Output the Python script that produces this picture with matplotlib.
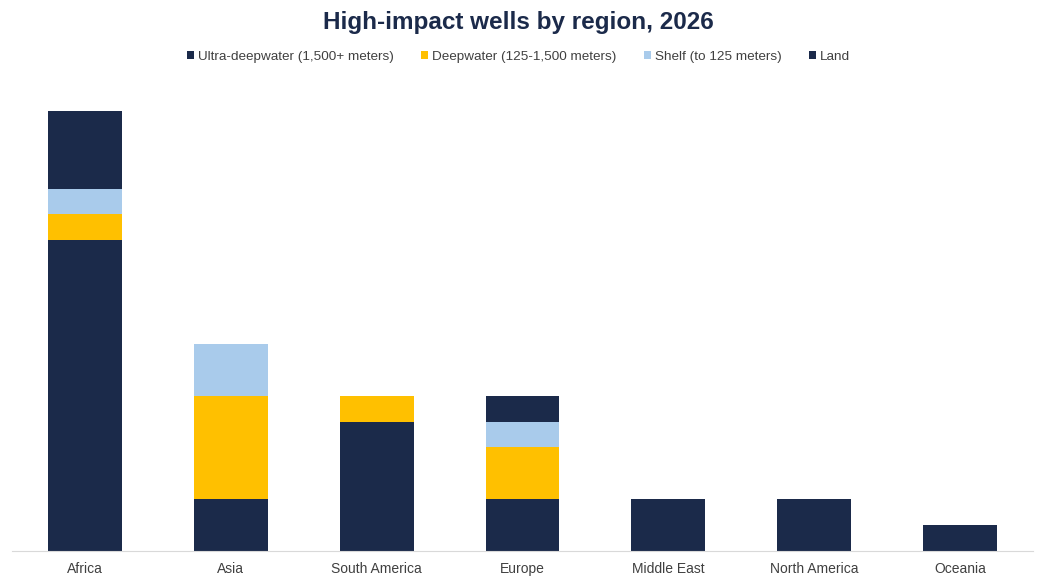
import matplotlib
matplotlib.use("Agg")
import matplotlib.pyplot as plt
import numpy as np

plt.rcParams['font.family'] = ['Liberation Sans', 'DejaVu Sans']

regions = ["Africa", "Asia", "South America", "Europe", "Middle East", "North America", "Oceania"]
series_names = ["Ultra-deepwater (1,500+ meters)", "Deepwater (125-1,500 meters)",
                "Shelf (to 125 meters)", "Land"]
ultra_deep = [12, 2, 5, 2, 0, 0, 0]
deep = [1, 4, 1, 2, 0, 0, 0]
shelf = [1, 2, 0, 1, 0, 0, 0]
land = [3, 0, 0, 1, 2, 2, 1]
colors = ["#1B2A4A", "#FFC000", "#A9CBEB", "#1B2A4A"]

fig = plt.figure(figsize=(10.37, 5.76), dpi=100)
ax = fig.add_axes([12/1037, 25/576, 1021/1037, (551-85)/576])

x = np.arange(len(regions))
bottom = np.zeros(len(regions))
for vals, name, c in zip([ultra_deep, deep, shelf, land], series_names, colors):
    ax.bar(x, vals, bottom=bottom, width=0.507, color=c, label=name)
    bottom += np.array(vals)

ax.set_xlim(-0.5, len(regions) - 0.5)
ax.set_ylim(0, 18)
ax.set_yticks([])
for s in ["top", "right", "left"]:
    ax.spines[s].set_visible(False)
ax.spines["bottom"].set_color("#D9D9D9")
ax.set_xticks(x)
ax.set_xticklabels(regions, fontsize=10, color="#404040")
ax.tick_params(axis="x", length=0, pad=8)

fig.text(0.5, 1 - 22/576, "High-impact wells by region, 2026", ha="center", va="center",
         fontsize=17.5, fontweight="bold", color="#1B2A4A")
fig.legend(loc="center", bbox_to_anchor=(0.5, 1 - 57/576), ncol=4, frameon=False,
           fontsize=9.7, handlelength=0.55, handleheight=0.55, handletextpad=0.3,
           columnspacing=2.0, labelcolor="#404040")

fig.savefig("out.png", dpi=100)
